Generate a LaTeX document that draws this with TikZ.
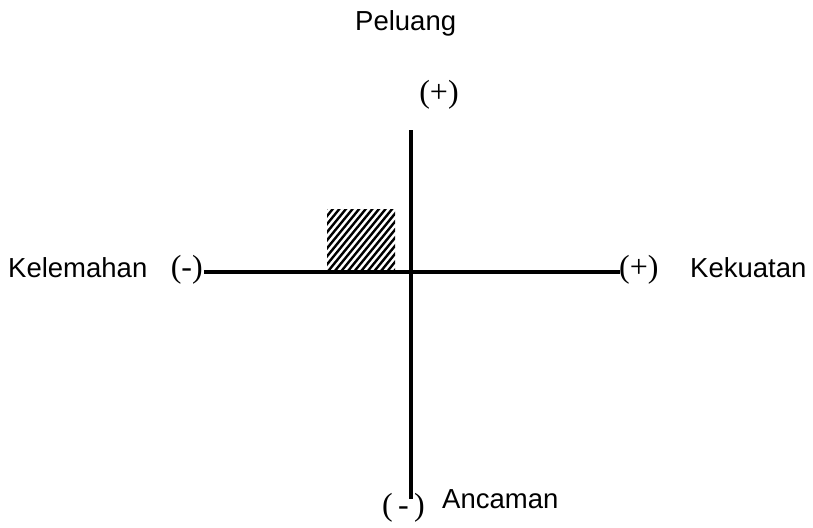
\documentclass[tikz,border=0pt]{standalone}
\usepackage{fontspec}
\setmainfont{Liberation Serif}
\newfontfamily\arialf{Liberation Sans}
\tikzset{
  lbl/.style={inner sep=0pt, font=\arialf\fontsize{27.5}{30}\selectfont},
  sgn/.style={inner sep=0pt, font=\fontsize{32}{34}\selectfont},
  axis/.style={line width=4pt},
  stripe/.style={line width=2.4pt}
}
\begin{document}
\begin{tikzpicture}[x=1pt,y=-1pt]
\useasboundingbox (0,0) rectangle (813,527);
\coordinate (top) at (411,130);
\coordinate (bot) at (411,499);
\coordinate (lft) at (204,272);
\coordinate (rgt) at (620,272);
\draw[axis] (top) -- (bot);
\draw[axis] (lft) -- (rgt);
\node[lbl, anchor=base west] (peluang) at (355,31) {Peluang};
\node[sgn] (ptop) at (439,95) {(+)};
\node[lbl, anchor=base west] (kel) at (8,277) {Kelemahan};
\node[sgn, anchor=east] (mleft) at (203,270) {(-)};
\node[sgn, anchor=west] (pright) at (619,270) {(+)};
\node[lbl, anchor=base west] (kek) at (690,277) {Kekuatan};
\node[sgn, anchor=west] (mbot) at (382,508) {(\,-\,)};
\node[lbl, anchor=base west] (anc) at (442,508) {Ancaman};
\begin{scope}
\clip (327,209) rectangle (395,269);
\foreach \i in {0,...,22} {
  \draw[stripe] ({268+\i*6.6},272) -- ++(54,-66);
}
\end{scope}
\end{tikzpicture}
\end{document}
